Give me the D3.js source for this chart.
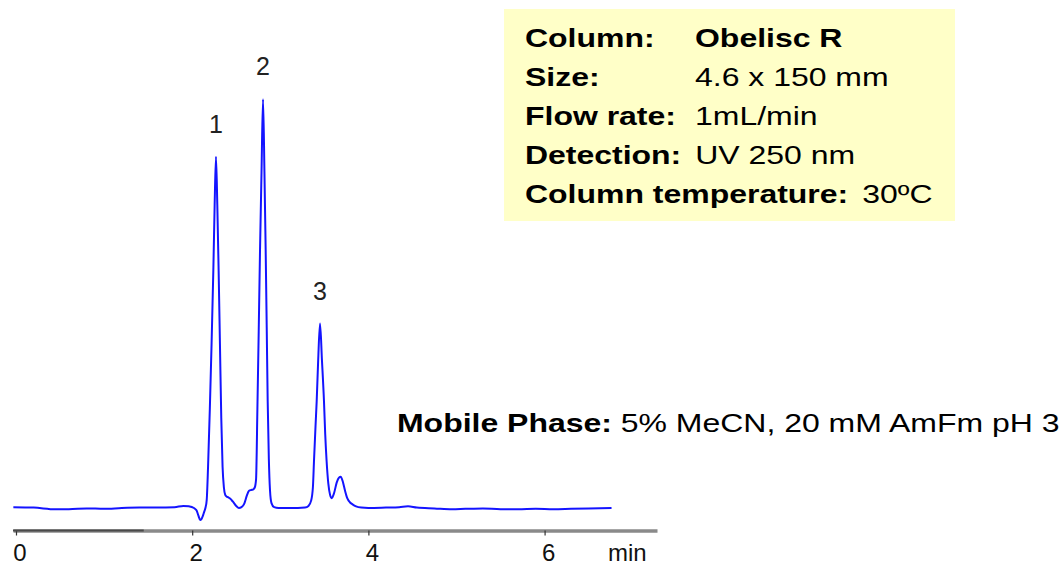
<!DOCTYPE html>
<html>
<head>
<meta charset="utf-8">
<script src="https://cdn.jsdelivr.net/npm/d3@7/dist/d3.min.js"></script>
<style>
  html, body { margin: 0; padding: 0; background: #fff; }
  svg { display: block; }
  text { font-family: "Liberation Sans", Arial, sans-serif; }
</style>
</head>
<body>
<svg id="chart" width="1062" height="566"></svg>
<script>
// ---- Data ----
const times = [
  -0.03, 0.2, 0.45, 0.6, 0.8, 1.0, 1.2, 1.4, 1.6, 1.8, 1.9, 1.96,
  2.02, 2.05, 2.07, 2.09, 2.105, 2.12, 2.135, 2.15,
  2.165, 2.18, 2.20, 2.22, 2.24, 2.255, 2.27, 2.285, 2.30, 2.315, 2.33, 2.345, 2.36,
  2.375, 2.39, 2.41, 2.43, 2.46, 2.50, 2.53, 2.56, 2.59, 2.62, 2.645, 2.67, 2.69, 2.71,
  2.725, 2.74, 2.755, 2.77, 2.787, 2.804, 2.82, 2.834, 2.846, 2.857, 2.87, 2.883, 2.90, 2.93, 2.98,
  3.10, 3.20, 3.28, 3.32, 3.35, 3.37, 3.383, 3.40, 3.413, 3.43, 3.451, 3.473, 3.496, 3.51, 3.525,
  3.545, 3.565, 3.583, 3.61, 3.64, 3.665, 3.686, 3.71, 3.735, 3.76, 3.79, 3.82, 3.86, 3.92,
  4.0, 4.2, 4.35, 4.45, 4.55, 4.75, 4.95, 5.1, 5.3, 5.5, 5.7, 5.9, 6.1, 6.3, 6.5, 6.76
];
const signal = [
  0.2, 0.1, -0.3, -0.3, -0.1, -0.2, 0.0, 0.1, 0.1, 0.2, 0.5, 0.4,
  0.0, -0.6, -1.8, -2.9, -2.7, -2.0, -1.0, 0.0,
  2, 10, 24, 40, 58, 74, 85.7, 74, 58, 40, 22, 10, 5,
  3.2, 2.8, 2.6, 2.3, 1.6, 0.5, 0.0, 0.2, 1.0, 3.0, 4.2, 4.4, 4.5, 5.0,
  7, 24, 43, 63, 82, 99.7, 82, 63, 44, 26, 12, 4.4, 1.2, 0.2, 0.0,
  0.0, 0.0, 0.1, 0.5, 1.8, 5, 11.7, 20, 26, 36, 45, 36, 26, 18, 11.7,
  6, 3.2, 2.4, 3.6, 6.2, 7.4, 7.6, 6.4, 4.2, 2.4, 1.4, 0.9, 0.4, 0.1,
  0.0, 0.1, 0.2, 0.4, 0.1, -0.1, -0.3, -0.2, -0.1, -0.3, -0.3, -0.2, -0.3, -0.2, -0.1, 0.0
];
const peakLabels = ["1", "2", "3"];
const peakTimes = [2.27, 2.804, 3.451];
const tickValues = [0, 2, 4, 6];
const axisUnit = "min";
const infoLabels = ["Column:", "Size:", "Flow rate:", "Detection:", "Column temperature:"];
const infoValues = ["Obelisc R", "4.6 x 150 mm", "1mL/min", "UV 250 nm", "30ºC"];
const infoValueBold = [true, false, false, false, false];
const mobileLabel = "Mobile Phase:";
const mobileValue = " 5% MeCN, 20 mM AmFm pH 3";

// ---- Layout ----
const svg = d3.select("#chart");
const x = d3.scaleLinear().domain([-0.034, 7.276]).range([13, 657]);
const y = d3.scaleLinear().domain([0, 100]).range([508, 98]);
const data = times.map((t, i) => ({ t, v: signal[i] }));

// Info box
const sx = 1.23;
const boxG = svg.append("g");
boxG.append("rect").attr("x", 504).attr("y", 9).attr("width", 451).attr("height", 212)
  .attr("fill", "#ffffc8");
infoLabels.forEach((lab, i) => {
  const by = 47 + i * 39;
  const lt = boxG.append("text")
    .attr("transform", `translate(525,${by}) scale(${sx},1)`)
    .attr("font-size", 26).attr("font-weight", "bold").attr("fill", "#000")
    .text(lab);
  const lw = lt.node().getComputedTextLength() * sx;
  const vx = Math.max(695, 525 + lw + 14);
  boxG.append("text")
    .attr("transform", `translate(${vx},${by}) scale(${sx},1)`)
    .attr("font-size", 26).attr("font-weight", infoValueBold[i] ? "bold" : "normal")
    .attr("fill", "#000")
    .text(infoValues[i]);
});

// Mobile phase
const mp = svg.append("text")
  .attr("transform", `translate(397,432) scale(${sx},1)`)
  .attr("font-size", 26).attr("fill", "#000");
mp.append("tspan").attr("font-weight", "bold").text(mobileLabel);
mp.append("tspan").text(mobileValue);

// X axis
const axisY = 530.5;
const axis = d3.axisBottom(x).tickValues(tickValues).tickSizeOuter(0).tickSizeInner(5)
  .tickFormat(d3.format("d"));
const ag = svg.append("g").attr("transform", `translate(0,${axisY})`).call(axis);
ag.select(".domain").attr("stroke", "#8a8a8a").attr("stroke-width", 3.5);
ag.append("line").attr("x1", x.range()[0]).attr("x2", x(1.45)).attr("y1", 0).attr("y2", 0)
  .attr("stroke", "#4a4a4a").attr("stroke-width", 2);
ag.selectAll(".tick line").attr("stroke", "#333").attr("stroke-width", 1.2);
ag.selectAll(".tick text").attr("font-size", 24).attr("fill", "#111")
  .attr("font-family", '"Liberation Sans", Arial, sans-serif')
  .attr("dy", null).attr("y", 30.5).attr("dx", 3.5);
svg.append("text").attr("x", 608).attr("y", 561).attr("font-size", 24).attr("fill", "#111")
  .text(axisUnit);

// Chromatogram trace
const line = d3.line().x(d => x(d.t)).y(d => y(d.v)).curve(d3.curveMonotoneX);
svg.append("path").datum(data).attr("d", line)
  .attr("fill", "none").attr("stroke", "#1414ff").attr("stroke-width", 2)
  .attr("stroke-linejoin", "round");

// Peak labels
peakLabels.forEach((lab, i) => {
  const near = data.filter(d => Math.abs(d.t - peakTimes[i]) < 0.03);
  const top = d3.max(near, d => d.v);
  svg.append("text").attr("x", x(peakTimes[i])).attr("y", y(top) - 24)
    .attr("text-anchor", "middle").attr("font-size", 25).attr("fill", "#222")
    .text(lab);
});
</script>
</body>
</html>
